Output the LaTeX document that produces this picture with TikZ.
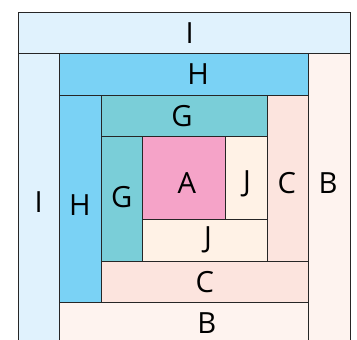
\documentclass[tikz,border=0pt]{standalone}
\usepackage{fontspec}
\setmainfont{Open Sans}

\definecolor{colI}{RGB}{224,242,253}
\definecolor{colH}{RGB}{122,210,245}
\definecolor{colG}{RGB}{122,206,216}
\definecolor{colA}{RGB}{245,163,200}
\definecolor{colJ}{RGB}{255,242,230}
\definecolor{colC}{RGB}{252,228,222}
\definecolor{colB}{RGB}{254,243,239}

\begin{document}
\begin{tikzpicture}[draw=black!85,line width=0.6pt,
    patch/.style={font=\fontsize{20}{24}\selectfont,inner sep=0pt}]
            \useasboundingbox (-0.434,0.108) rectangle (8.169,8.289);
            \clip (-0.434,0.108) rectangle (8.169,8.289);

            % outer strips
            \draw [fill=colI] (0,7) rectangle (8,8);
            \draw [fill=colI] (0,0) rectangle (1,7);
            \draw [fill=colH] (1,6) rectangle (7,7);
            \draw [fill=colB] (7,0) rectangle (8,7);
            \draw [fill=colB] (1,0) rectangle (7,1);

            % middle strips
            \draw [fill=colH] (1,1) rectangle (2,6);
            \draw [fill=colG] (2,5) rectangle (6,6);
            \draw [fill=colC] (6,2) rectangle (7,6);
            \draw [fill=colC] (2,1) rectangle (7,2);

            % inner strips
            \draw [fill=colG] (2,2) rectangle (3,5);
            \draw [fill=colA] (3,3) rectangle (5,5);
            \draw [fill=colJ] (5,3) rectangle (6,5);
            \draw [fill=colJ] (3,2) rectangle (6,3);

            % labels
            \node [patch] (Itop)   at (4.14,7.5)  {I};
            \node [patch] (Htop)   at (4.34,6.5)  {H};
            \node [patch] (Gtop)   at (3.95,5.5)  {G};
            \node [patch] (Ileft)  at (0.5,3.41)  {I};
            \node [patch] (Hleft)  at (1.49,3.34) {H};
            \node [patch] (Gleft)  at (2.5,3.53)  {G};
            \node [patch] (A)      at (4.07,3.87) {A};
            \node [patch] (Jright) at (5.52,3.87) {J};
            \node [patch] (Cright) at (6.48,3.87) {C};
            \node [patch] (Bright) at (7.47,3.87) {B};
            \node [patch] (Jbot)   at (4.58,2.5)  {J};
            \node [patch] (Cbot)   at (4.5,1.5)   {C};
            \node [patch] (Bbot)   at (4.55,0.5)  {B};
\end{tikzpicture}
\end{document}
